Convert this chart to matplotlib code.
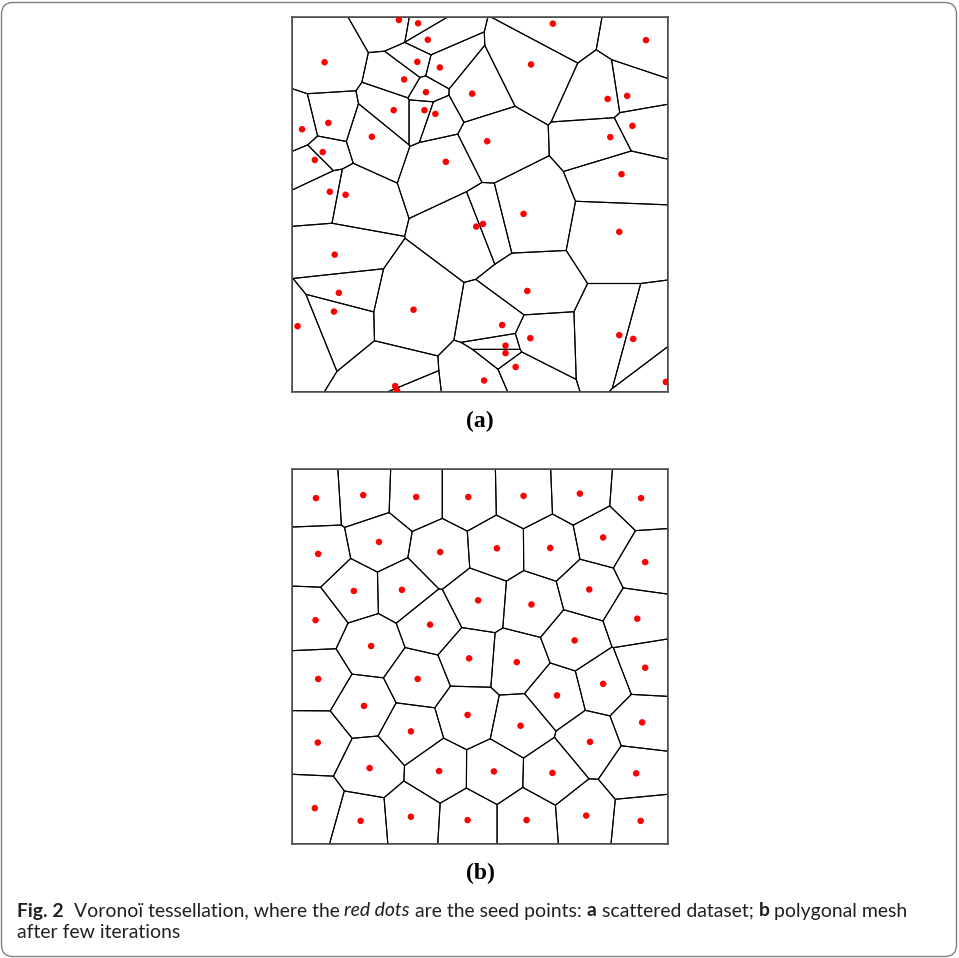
import numpy as np
import matplotlib
matplotlib.use("Agg")
import matplotlib.pyplot as plt
from matplotlib.patches import FancyBboxPatch

# ---- data: seed points (unit square, y up) ----
seeds_a_x = [0.284, 0.335, 0.694, 0.361, 0.942, 0.086, 0.333, 0.636, 0.393, 0.298,
             0.356, 0.479, 0.892, 0.840, 0.270, 0.352, 0.381, 0.096, 0.906, 0.026,
             0.212, 0.847, 0.519, 0.081, 0.060, 0.409, 0.877, 0.100, 0.142, 0.616,
             0.508, 0.490, 0.871, 0.113, 0.626, 0.124, 0.111, 0.323, 0.014, 0.559,
             0.871, 0.908, 0.634, 0.568, 0.568, 0.595, 0.511, 0.995, 0.274, 0.279]
seeds_a_y = [0.993, 0.984, 0.983, 0.940, 0.939, 0.880, 0.881, 0.874, 0.866, 0.834,
             0.800, 0.796, 0.790, 0.782, 0.752, 0.752, 0.742, 0.718, 0.710, 0.701,
             0.681, 0.680, 0.669, 0.640, 0.619, 0.614, 0.581, 0.534, 0.526, 0.475,
             0.448, 0.441, 0.427, 0.366, 0.269, 0.264, 0.214, 0.219, 0.175, 0.178,
             0.151, 0.141, 0.143, 0.123, 0.103, 0.066, 0.030, 0.026, 0.015, 0.003]

seeds_b_x = [0.063, 0.189, 0.330, 0.469, 0.616, 0.766, 0.929,
             0.069, 0.231, 0.394, 0.545, 0.687, 0.828, 0.940,
             0.164, 0.292, 0.495, 0.637, 0.791, 0.062, 0.367, 0.919,
             0.210, 0.752, 0.471, 0.598, 0.940, 0.069, 0.334, 0.828,
             0.705, 0.191, 0.467, 0.608, 0.932, 0.316, 0.068, 0.793,
             0.206, 0.391, 0.537, 0.693, 0.916,
             0.060, 0.182, 0.316, 0.467, 0.624, 0.783, 0.928]
seeds_b_y = [0.923, 0.931, 0.926, 0.926, 0.929, 0.935, 0.923,
             0.774, 0.806, 0.779, 0.789, 0.790, 0.818, 0.752,
             0.675, 0.678, 0.650, 0.639, 0.679, 0.597, 0.585, 0.601,
             0.528, 0.543, 0.495, 0.485, 0.470, 0.440, 0.440, 0.427,
             0.396, 0.368, 0.344, 0.315, 0.324, 0.300, 0.270, 0.272,
             0.202, 0.194, 0.193, 0.189, 0.188,
             0.095, 0.061, 0.072, 0.063, 0.063, 0.075, 0.061]

panel_labels = ["(a)", "(b)"]
caption_pieces = [("Fig. 2", "bold", "normal", 2),
                  ("Voronoï tessellation, where the", "normal", "normal", 1),
                  ("red dots", "normal", "italic", 1),
                  ("are the seed points:", "normal", "normal", 1),
                  ("a", "bold", "normal", 1),
                  ("scattered dataset;", "normal", "normal", 1),
                  ("b", "bold", "normal", 1),
                  ("polygonal mesh", "normal", "normal", 0)]
caption_line2 = "after few iterations"


def clip(poly, a, b, c):
    # keep points with a*x + b*y <= c
    out = []
    n = len(poly)
    for k in range(n):
        p = poly[k]
        q = poly[(k + 1) % n]
        fp = a * p[0] + b * p[1] - c
        fq = a * q[0] + b * q[1] - c
        if fp <= 0:
            out.append(p)
        if (fp < 0 < fq) or (fq < 0 < fp):
            t = fp / (fp - fq)
            out.append((p[0] + t * (q[0] - p[0]), p[1] + t * (q[1] - p[1])))
    return out


def voronoi_cells(xs, ys):
    pts = np.column_stack([xs, ys])
    cells = []
    for i, p in enumerate(pts):
        poly = [(0, 0), (1, 0), (1, 1), (0, 1)]
        for j, q in enumerate(pts):
            if i == j:
                continue
            d = q - p
            if np.allclose(d, 0):
                continue
            m = (p + q) / 2
            poly = clip(poly, d[0], d[1], d @ m)
            if not poly:
                break
        cells.append(poly)
    return cells


W, H = 959, 958
fig = plt.figure(figsize=(W / 100, H / 100), dpi=100)

ax_rects = [(292.3, 17.3, 375.4, 374.4), (292.3, 469.3, 375.4, 374.4)]
data = [(seeds_a_x, seeds_a_y), (seeds_b_x, seeds_b_y)]
label_y = [421, 873]

for (l, t, w, h), (xs, ys), lab, ly in zip(ax_rects, data, panel_labels, label_y):
    ax = fig.add_axes([l / W, 1 - (t + h) / H, w / W, h / H])
    for cell in voronoi_cells(xs, ys):
        cx = [c[0] for c in cell] + [cell[0][0]]
        cy = [c[1] for c in cell] + [cell[0][1]]
        ax.plot(cx, cy, color="black", lw=0.8, solid_joinstyle="miter")
    ax.scatter(xs, ys, s=22, color="#ff0000", edgecolors="none", zorder=3)
    ax.set_xlim(0, 1)
    ax.set_ylim(0, 1)
    ax.set_xticks([])
    ax.set_yticks([])
    for sp in ax.spines.values():
        sp.set_color("#555555")
        sp.set_linewidth(1.2)
    fig.text((l + w / 2) / W, 1 - ly / H, lab, ha="center", va="center",
             fontsize=17, fontweight="bold", family="Liberation Serif")

# frame
frame = FancyBboxPatch((1.5 / W, 1.5 / H), (W - 4) / W, (H - 4) / H,
                       boxstyle="round,pad=0,rounding_size=0.012",
                       transform=fig.transFigure, fill=False,
                       edgecolor="#808080", lw=1.0)
fig.add_artist(frame)

# caption
fam = ["Lato", "Open Sans", "DejaVu Sans"]
fs = 12.5
renderer = fig.canvas.get_renderer()


def width_of(s, weight="normal", style="normal"):
    t = fig.text(0, 0, s, fontsize=fs, fontweight=weight, fontstyle=style, family=fam)
    wpx = t.get_window_extent(renderer).width
    t.remove()
    return wpx

space = width_of("x x") - width_of("xx")
total = 0
for s, wgt, sty, nsp in caption_pieces:
    total += width_of(s, wgt, sty) + nsp * space
fs = fs * 895 / total
space = width_of("x x") - width_of("xx")

x = 17.0
y1 = 1 - 916.5 / H
for s, wgt, sty, nsp in caption_pieces:
    t = fig.text(x / W, y1, s, fontsize=fs, fontweight=wgt, fontstyle=sty,
                 family=fam, va="baseline", ha="left", color="#231f20")
    x += t.get_window_extent(renderer).width + nsp * space
fig.text(17 / W, 1 - 938 / H, caption_line2, fontsize=fs, family=fam,
         va="baseline", ha="left", color="#231f20")

fig.savefig("out.png", dpi=100)
